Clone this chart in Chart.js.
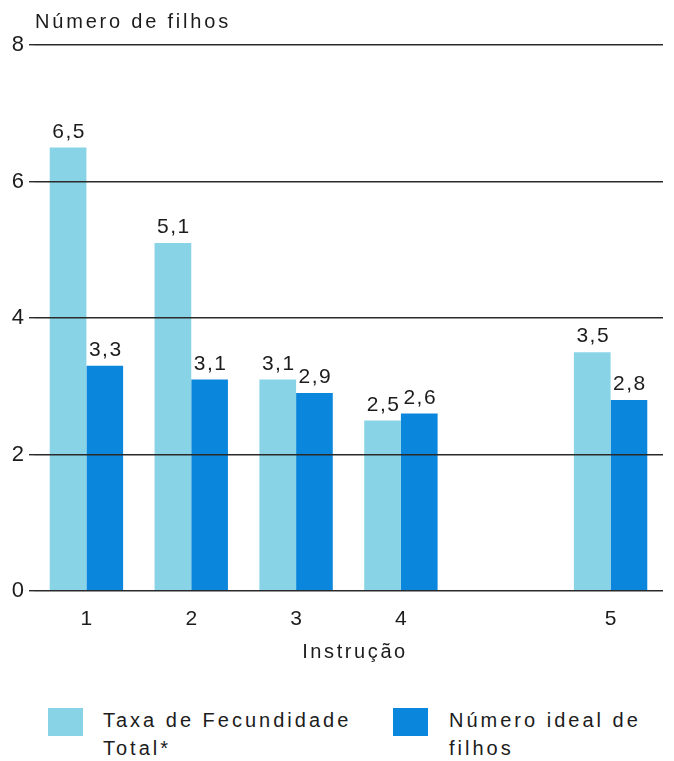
<!DOCTYPE html>
<html>
<head>
<meta charset="utf-8">
<script src="https://cdn.jsdelivr.net/npm/chart.js@4.4.1/dist/chart.umd.min.js"></script>
<style>
  html, body { margin: 0; padding: 0; background: #fff; }
  body { width: 674px; height: 761px; position: relative; overflow: hidden;
         font-family: "Liberation Sans", Arial, sans-serif; color: #1c1c1c; }
  #wrap { position: absolute; left: 0; top: 0; width: 674px; height: 680px; }
  .title { position: absolute; left: 35px; top: 10px; font-size: 20px; letter-spacing: 2.8px; }
  .xtitle { position: absolute; left: 0; width: 710px; top: 640px; text-align: center; font-size: 20px; letter-spacing: 2.6px; }
  .legend { position: absolute; top: 706px; font-size: 20px; letter-spacing: 3px; line-height: 28px; }
  .legend .box { position: absolute; left: 0; top: 2px; width: 35px; height: 28px; }
  .legend .txt { position: absolute; top: 0; white-space: nowrap; }
</style>
</head>
<body>
<div id="wrap"><canvas id="chart"></canvas></div>
<div class="title">Número de filhos</div>
<div class="xtitle">Instrução</div>
<div class="legend" style="left:48px">
  <div class="box" style="background:#88d3e6"></div>
  <div class="txt" style="left:55px">Taxa de Fecundidade<br>Total*</div>
</div>
<div class="legend" style="left:393px">
  <div class="box" style="background:#0a86dc"></div>
  <div class="txt" style="left:56px">Número ideal de<br>filhos</div>
</div>
<script>
const categories = ['1', '2', '3', '4', '', '5'];
const taxaFecundidade = [6.5, 5.1, 3.1, 2.5, null, 3.5];
const numeroIdeal = [3.3, 3.1, 2.9, 2.6, null, 2.8];
const yTicks = [0, 2, 4, 6, 8];

const lightBlue = '#88d3e6';
const darkBlue = '#0a86dc';
const fontFamily = '"Liberation Sans", Arial, sans-serif';

const valueLabels = {
  id: 'valueLabels',
  afterDatasetsDraw(chart) {
    const ctx = chart.ctx;
    ctx.save();
    ctx.font = '21px ' + fontFamily;
    ctx.fillStyle = '#1c1c1c';
    ctx.textAlign = 'center';
    ctx.textBaseline = 'bottom';
    if ('letterSpacing' in ctx) ctx.letterSpacing = '1.5px';
    chart.data.datasets.forEach((ds, i) => {
      chart.getDatasetMeta(i).data.forEach((bar, j) => {
        const v = ds.data[j];
        if (v == null) return;
        ctx.fillText(v.toFixed(1).replace('.', ','), bar.x + 1, bar.y - 5);
      });
    });
    ctx.restore();
  }
};

new Chart(document.getElementById('chart'), {
  type: 'bar',
  data: {
    labels: categories,
    datasets: [
      { label: 'Taxa de Fecundidade Total*', data: taxaFecundidade, backgroundColor: lightBlue },
      { label: 'Número ideal de filhos', data: numeroIdeal, backgroundColor: darkBlue }
    ]
  },
  options: {
    responsive: true,
    maintainAspectRatio: false,
    animation: false,
    datasets: { bar: { categoryPercentage: 0.7, barPercentage: 1.0 } },
    layout: { padding: { top: 45, right: 11, left: 0, bottom: 0 } },
    plugins: { legend: { display: false }, tooltip: { enabled: false } },
    scales: {
      x: {
        grid: { display: false },
        border: { display: false },
        ticks: { color: '#1c1c1c', font: { size: 21, family: fontFamily }, padding: 8 },
        afterFit: s => { s.height = 89; }
      },
      y: {
        min: 0, max: 8,
        afterBuildTicks: s => { s.ticks = yTicks.map(v => ({ value: v })); },
        afterFit: s => { s.width = 34; },
        border: { display: false },
        grid: { color: '#2a2a2a', lineWidth: 1.4, z: 1, tickLength: 5 },
        ticks: { color: '#1c1c1c', padding: 5, font: { size: 22, family: fontFamily } }
      }
    }
  },
  plugins: [valueLabels]
});
</script>
</body>
</html>
